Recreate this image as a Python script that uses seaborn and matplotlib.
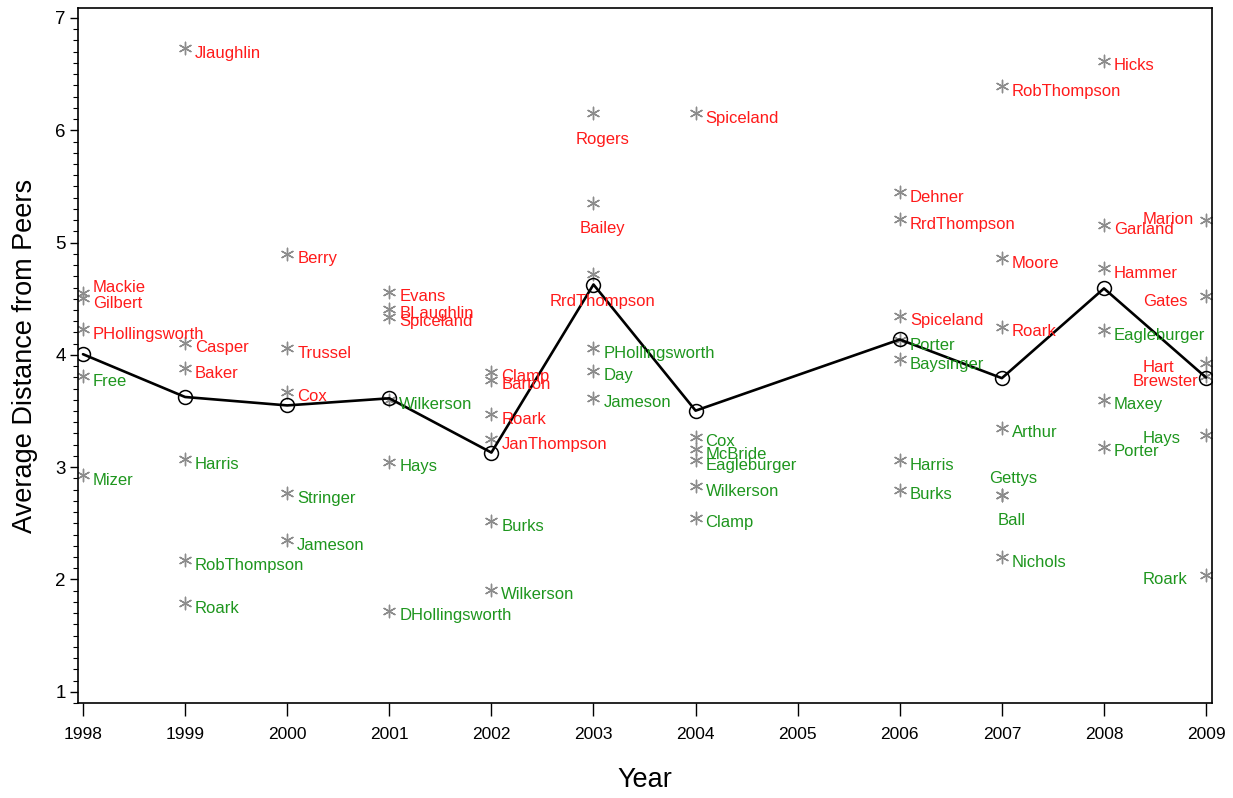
import matplotlib
matplotlib.use("Agg")
import pandas as pd
import seaborn as sns
import matplotlib.pyplot as plt
from matplotlib.ticker import MultipleLocator

# Individual points: year, name, average distance from peers
years = [1998] * 5 + [1999] * 6 + [2000] * 5 + [2001] * 6 + [2002] * 6 + [2003] * 6 \
    + [2004] * 6 + [2006] * 7 + [2007] * 7 + [2008] * 6 + [2009] * 6
names = [
    "Mackie", "Gilbert", "PHollingsworth", "Free", "Mizer",
    "Jlaughlin", "Casper", "Baker", "Harris", "RobThompson", "Roark",
    "Berry", "Trussel", "Cox", "Stringer", "Jameson",
    "Evans", "BLaughlin", "Spiceland", "Wilkerson", "Hays", "DHollingsworth",
    "Clamp", "Barton", "Roark", "JanThompson", "Burks", "Wilkerson",
    "Rogers", "Bailey", "RrdThompson", "PHollingsworth", "Day", "Jameson",
    "Spiceland", "Cox", "McBride", "Eagleburger", "Wilkerson", "Clamp",
    "Dehner", "RrdThompson", "Spiceland", "Porter", "Baysinger", "Harris", "Burks",
    "RobThompson", "Moore", "Roark", "Arthur", "Gettys", "Ball", "Nichols",
    "Hicks", "Garland", "Hammer", "Eagleburger", "Maxey", "Porter",
    "Marion", "Gates", "Hart", "Brewster", "Hays", "Roark",
]
distances = [
    4.55, 4.51, 4.23, 3.81, 2.93,
    6.73, 4.11, 3.88, 3.07, 2.17, 1.79,
    4.90, 4.06, 3.67, 2.77, 2.35,
    4.56, 4.41, 4.34, 3.60, 3.05, 1.72,
    3.85, 3.78, 3.47, 3.25, 2.52, 1.91,
    6.15, 5.35, 4.72, 4.06, 3.86, 3.62,
    6.15, 3.27, 3.16, 3.06, 2.83, 2.55,
    5.45, 5.21, 4.35, 4.13, 3.96, 3.06, 2.80,
    6.39, 4.86, 4.25, 3.35, 2.75, 2.75, 2.20,
    6.62, 5.16, 4.77, 4.22, 3.60, 3.18,
    5.20, 4.52, 3.93, 3.81, 3.29, 2.04,
]
year_ticks = list(range(1998, 2010))

# label placement (pixels right, pixels down, alignment); default is right of the star
default_place = (10, 5, "left")
label_place = {
    (1998, "Mackie"): (10, -6, "left"),
    (1998, "Gilbert"): (10, 6, "left"),
    (2003, "Rogers"): (9, 26, "center"),
    (2003, "Bailey"): (9, 25, "center"),
    (2003, "RrdThompson"): (9, 27, "center"),
    (2007, "Gettys"): (11, -17, "center"),
    (2007, "Ball"): (10, 25, "center"),
    (2009, "Marion"): (-63, -1, "left"),
    (2009, "Gates"): (-63, 5, "left"),
    (2009, "Hart"): (-63, 5, "left"),
    (2009, "Brewster"): (-73, 5, "left"),
    (2009, "Hays"): (-63, 4, "left"),
    (2009, "Roark"): (-63, 5, "left"),
}

RED = "#FF1A1A"
GREEN = "#1E961E"

df = pd.DataFrame({"year": years, "name": names, "distance": distances})
df["above"] = df["distance"] > df.groupby("year")["distance"].transform("mean")

sns.set_style("ticks")
plt.rcParams["font.family"] = ["Liberation Sans", "DejaVu Sans"]

fig = plt.figure(figsize=(12.33, 7.98), dpi=100)
ax = fig.add_axes([78 / 1233, 1 - 703 / 798, (1212 - 78) / 1233, (703 - 8) / 798])

sns.scatterplot(data=df, x="year", y="distance", marker=(6, 2, 0), s=80,
                color="#8C8C8C", edgecolor="#8C8C8C", linewidth=1, ax=ax, zorder=2)
sns.lineplot(data=df, x="year", y="distance", estimator="mean", errorbar=None,
             color="black", linewidth=1.9, marker="o", markersize=10,
             markerfacecolor="none", markeredgecolor="black", markeredgewidth=1.1,
             ax=ax, zorder=3)

for row in df.itertuples():
    dx, dy, ha = label_place.get((row.year, row.name), default_place)
    ax.annotate(row.name, (row.year, row.distance), xytext=(dx * 0.72, -dy * 0.72),
                textcoords="offset points", ha=ha, va="center", fontsize=12,
                color=RED if row.above else GREEN, zorder=4)

ax.set_xlim(1997.951, 2009.058)
ax.set_ylim(0.9, 7.089)
ax.set_xticks(year_ticks)
ax.yaxis.set_major_locator(MultipleLocator(1))
ax.yaxis.set_minor_locator(MultipleLocator(0.1))
ax.tick_params(axis="x", length=9, width=1, pad=8, labelsize=12.5,
               colors="black")
ax.tick_params(axis="y", which="major", length=6, width=1, pad=3, labelsize=13.5,
               colors="black")
ax.tick_params(axis="y", which="minor", length=3.5, width=0.8, colors="black")
for side in ["top", "right", "left", "bottom"]:
    ax.spines[side].set_visible(True)
    ax.spines[side].set_linewidth(1.2)
    ax.spines[side].set_color("black")

ax.set_xlabel("Year", fontsize=19.5, labelpad=18, color="black")
ax.set_ylabel("Average Distance from Peers", fontsize=19.5, labelpad=12, color="black")

fig.savefig("out.png", dpi=100)
